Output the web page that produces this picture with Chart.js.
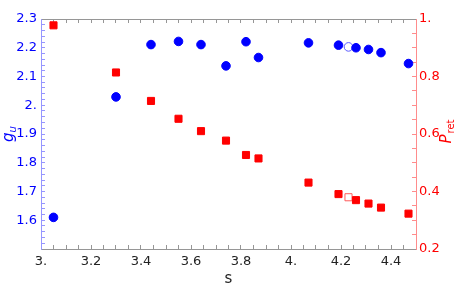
<!DOCTYPE html>
<html><head><meta charset="utf-8">
<script src="https://cdn.jsdelivr.net/npm/chart.js@4/dist/chart.umd.min.js"></script>
<style>html,body{margin:0;padding:0;background:#fff}</style>
</head><body>
<canvas id="c" width="458" height="287"></canvas>
<script>
// ---- data ----
const sValues    = [3.05, 3.30, 3.44, 3.55, 3.64, 3.74, 3.82, 3.87, 4.07, 4.19, 4.23, 4.26, 4.31, 4.36, 4.47];
const guValues   = [1.610, 2.029, 2.211, 2.222, 2.211, 2.137, 2.221, 2.166, 2.217, 2.209, 2.203, 2.200, 2.194, 2.183, 2.145];
const pretValues = [0.978, 0.814, 0.715, 0.653, 0.610, 0.577, 0.527, 0.515, 0.431, 0.391, 0.380, 0.370, 0.358, 0.344, 0.323];
const openFlags  = [0, 0, 0, 0, 0, 0, 0, 0, 0, 0, 1, 0, 0, 0, 0];

const xMajor      = [3.0, 3.2, 3.4, 3.6, 3.8, 4.0, 4.2, 4.4];
const xLabels     = ["3.", "3.2", "3.4", "3.6", "3.8", "4.", "4.2", "4.4"];
const leftMajor   = [1.6, 1.7, 1.8, 1.9, 2.0, 2.1, 2.2, 2.3];
const leftLabels  = ["1.6", "1.7", "1.8", "1.9", "2.", "2.1", "2.2", "2.3"];
const rightMajor  = [0.2, 0.4, 0.6, 0.8, 1.0];
const rightLabels = ["0.2", "0.4", "0.6", "0.8", "1."];

const BLUE = 'rgb(0,0,255)', RED = 'rgb(255,0,0)';
const GRAY_AX = 'rgb(150,150,150)', BLUE_AX = 'rgb(150,150,255)', RED_AX = 'rgb(255,140,140)';
const CLEAR = 'rgba(0,0,0,0)';
const FONT = 'DejaVu Sans';
const TL = 4;

function labelFor(v, majors, labels) {
  for (let i = 0; i < majors.length; i++) if (Math.abs(v - majors[i]) < 1e-6) return labels[i];
  return '';
}
function near(a, b) { return Math.abs(a - b) < 1e-6; }

const guPoints = sValues.map((s, i) => ({x: s, y: guValues[i]}));
const prPoints = sValues.map((s, i) => ({x: s, y: pretValues[i]}));

function drawTitles(chart) {
  const ctx = chart.ctx, a = chart.chartArea;
  ctx.save();
  ctx.textBaseline = 'alphabetic';
  ctx.textAlign = 'left';
  ctx.save();
  ctx.translate(13, 134);
  ctx.rotate(-Math.PI / 2);
  ctx.fillStyle = BLUE;
  ctx.font = 'italic 15px "' + FONT + '"';
  const gw = ctx.measureText('g').width;
  ctx.font = 'italic 10px "' + FONT + '"';
  const uw = ctx.measureText('u').width;
  const tw = gw + uw;
  ctx.font = 'italic 15px "' + FONT + '"';
  ctx.fillText('g', -tw / 2, 0);
  ctx.font = 'italic 10px "' + FONT + '"';
  ctx.fillText('u', -tw / 2 + gw, 3);
  ctx.restore();
  ctx.save();
  ctx.translate(451, 132);
  ctx.rotate(-Math.PI / 2);
  ctx.fillStyle = RED;
  ctx.font = 'italic 15px "' + FONT + '"';
  const pw = ctx.measureText('P').width;
  ctx.font = '10px "' + FONT + '"';
  const rw = ctx.measureText('ret').width;
  const tw2 = pw + rw;
  ctx.font = 'italic 15px "' + FONT + '"';
  ctx.fillText('P', -tw2 / 2, 0);
  ctx.font = '10px "' + FONT + '"';
  ctx.fillText('ret', -tw2 / 2 + pw + 1, 3);
  ctx.restore();
  ctx.fillStyle = '#222';
  ctx.font = '15px "' + FONT + '"';
  ctx.textAlign = 'center';
  ctx.fillText('s', (a.left + a.right) / 2, 283);
  ctx.restore();
}
const titlePlugin = { id: 'titles', afterDraw(chart) { drawTitles(chart); } };

// grid line only at the scale ends (forms the frame), ticks pointing inward
function frameGrid(min, max, lo, hi, tickColor) {
  return {
    display: true, drawOnChartArea: true, drawTicks: true, tickLength: -TL,
    lineWidth: 1, tickWidth: 1, tickColor: tickColor,
    color: (c) => (c.tick && near(c.tick.value, min)) ? lo : (c.tick && near(c.tick.value, max)) ? hi : CLEAR
  };
}

new Chart(document.getElementById('c'), {
  type: 'scatter',
  data: {
    datasets: [
      {
        label: 'g_u', data: guPoints, xAxisID: 'x', yAxisID: 'y',
        pointStyle: 'circle', pointRadius: 4.3, pointHoverRadius: 4.3,
        pointBackgroundColor: openFlags.map(f => f ? '#fff' : BLUE),
        pointBorderColor: openFlags.map(f => f ? 'rgb(90,90,255)' : BLUE),
        pointBorderWidth: 1
      },
      {
        label: 'P_ret', data: prPoints, xAxisID: 'x', yAxisID: 'y1',
        pointStyle: 'rect', pointRadius: 5, pointHoverRadius: 5,
        pointBackgroundColor: openFlags.map(f => f ? '#fff' : RED),
        pointBorderColor: openFlags.map(f => f ? 'rgb(255,90,90)' : RED),
        pointBorderWidth: 1
      }
    ]
  },
  options: {
    responsive: false,
    animation: false,
    devicePixelRatio: 1,
    layout: { padding: { top: 19, left: 0, right: 0, bottom: 0 } },
    plugins: { legend: { display: false }, tooltip: { enabled: false } },
    scales: {
      x: {
        type: 'linear', position: 'bottom', min: 3, max: 4.5,
        grid: frameGrid(3, 4.5, BLUE_AX, RED_AX, GRAY_AX),
        border: { display: true, color: GRAY_AX, width: 1 },
        afterFit(s) { s.height = 38; },
        ticks: {
          stepSize: 0.05, autoSkip: false, maxRotation: 0, padding: 5 + TL,
          color: '#222', font: { family: FONT, size: 13 },
          callback: v => labelFor(v, xMajor, xLabels)
        }
      },
      xTop: {
        type: 'linear', position: 'top', min: 3, max: 4.5,
        grid: { display: true, drawOnChartArea: false, drawTicks: true, tickLength: -TL, tickColor: GRAY_AX, tickWidth: 1 },
        border: { display: true, color: GRAY_AX, width: 1 },
        ticks: { display: false, stepSize: 0.05, autoSkip: false },
        afterFit(s) { s.height = 0; }
      },
      y: {
        type: 'linear', position: 'left', min: 1.5, max: 2.3,
        grid: frameGrid(1.5, 2.3, GRAY_AX, GRAY_AX, BLUE_AX),
        border: { display: true, color: BLUE_AX, width: 1 },
        afterFit(s) { s.width = 41; },
        ticks: {
          stepSize: 0.02, autoSkip: false, padding: 4 + TL,
          color: BLUE, font: { family: FONT, size: 13 },
          callback: v => labelFor(v, leftMajor, leftLabels)
        }
      },
      y1: {
        type: 'linear', position: 'right', min: 0.2, max: 1.0,
        grid: { display: true, drawOnChartArea: false, drawTicks: true, tickLength: -TL, tickColor: RED_AX, tickWidth: 1 },
        border: { display: true, color: RED_AX, width: 1 },
        afterFit(s) { s.width = 42; },
        ticks: {
          stepSize: 0.05, autoSkip: false, padding: 3 + TL,
          color: RED, font: { family: FONT, size: 13 },
          callback: v => labelFor(v, rightMajor, rightLabels)
        }
      }
    }
  },
  plugins: [titlePlugin]
});
</script>
</body></html>
